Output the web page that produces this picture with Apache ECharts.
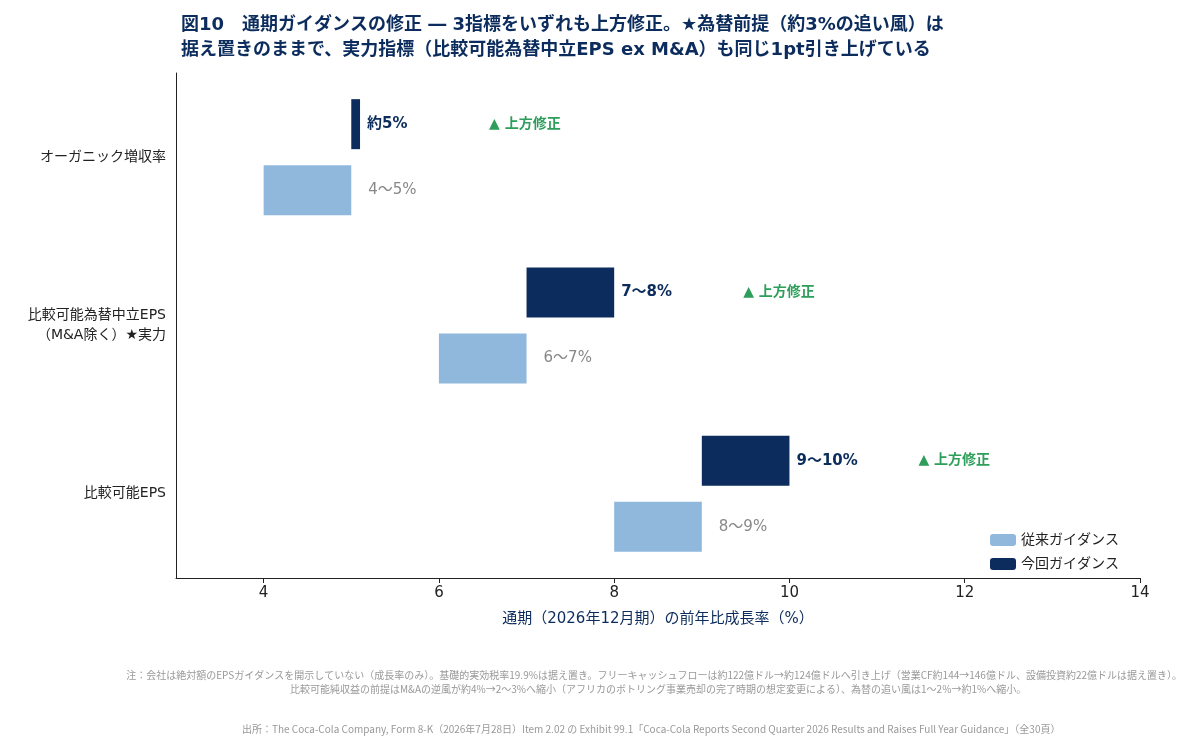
<!DOCTYPE html><html><head><meta charset="utf-8"><script src="https://cdn.jsdelivr.net/npm/echarts@6/dist/echarts.min.js"></script>
<style>body{margin:0}#c{width:1200px;height:747px}</style></head><body><div id="c"></div><script>
const categories=['オーガニック増収率','比較可能為替中立EPS\n（M&A除く）★実力','比較可能EPS'];
const oldLow=[4,6,8], oldHigh=[5,7,9];
const newLow=[5,7,9], newHigh=[5.1,8,10];
const oldLabels=['4〜5%','6〜7%','8〜9%'];
const newLabels=['約5%','7〜8%','9〜10%'];
const revLabel='▲ 上方修正';
const xTicks=[4,6,8,10,12,14];
const dark='#0B2C5C', light='#8FB8DC';
const c=echarts.init(document.getElementById('c'));
const F='"DejaVu Sans","Noto Sans CJK JP",sans-serif';
const FN='"Noto Sans CJK JP","Noto Sans",sans-serif';
c.setOption({
 textStyle:{fontFamily:F},
 title:{left:176,top:8,text:'図10　通期ガイダンスの修正 ― 3指標をいずれも上方修正。★為替前提（約3%の追い風）は\n据え置きのままで、実力指標（比較可能為替中立EPS ex M&A）も同じ1pt引き上げている',
  textStyle:{color:'#0B2C5C',fontSize:18,fontWeight:'bold',lineHeight:25,fontFamily:F}},
 grid:{left:176,right:60,top:73,bottom:169},
 legend:{data:['従来ガイダンス','今回ガイダンス'],orient:'vertical',left:985,top:528,itemWidth:26,itemHeight:12,itemGap:10,
  textStyle:{fontSize:14,color:'#222',fontFamily:F}},
 xAxis:{type:'value',min:3,max:14,name:'通期（2026年12月期）の前年比成長率（%）',nameLocation:'middle',nameGap:34,
  nameTextStyle:{fontSize:15,color:'#0B2C5C',fontFamily:F},
  axisLabel:{fontSize:15,color:'#222',customValues:xTicks,fontFamily:F},
  axisTick:{show:true,length:5,lineStyle:{color:'#222'},customValues:xTicks},
  splitLine:{show:false},axisLine:{show:true,lineStyle:{color:'#222'}}},
 yAxis:{type:'category',inverse:true,data:categories,axisLine:{lineStyle:{color:'#222'}},
  axisTick:{alignWithLabel:true,length:5,lineStyle:{color:'#222'}},
  axisLabel:{fontSize:14,color:'#222',lineHeight:20,margin:10,fontFamily:F}},
 series:[
  {type:'bar',stack:'n',data:newLow,itemStyle:{color:'transparent'},barWidth:50,barGap:'32%',silent:true},
  {type:'bar',name:'今回ガイダンス',stack:'n',data:newHigh.map((h,i)=>+(h-newLow[i]).toFixed(2)),itemStyle:{color:dark},barWidth:50,
   label:{show:true,position:'right',distance:7,formatter:p=>'{a|'+newLabels[p.dataIndex]+'}{b|'+revLabel+'}',
    rich:{a:{width:122,fontSize:15,fontWeight:'bold',color:dark,fontFamily:F},b:{fontSize:14,fontWeight:'bold',color:'#2E9E5B',fontFamily:F}}}},
  {type:'bar',stack:'o',data:oldLow,itemStyle:{color:'transparent'},barWidth:50,silent:true},
  {type:'bar',name:'従来ガイダンス',stack:'o',data:oldHigh.map((h,i)=>h-oldLow[i]),itemStyle:{color:light},barWidth:50,
   label:{show:true,position:'right',distance:17,fontSize:15,color:'#888',fontFamily:F,formatter:p=>oldLabels[p.dataIndex]}}
 ],
 graphic:[
  {type:'text',right:18,top:670,style:{text:'注：会社は絶対額のEPSガイダンスを開示していない（成長率のみ）。基礎的実効税率19.9%は据え置き。フリーキャッシュフローは約122億ドル→約124億ドルへ引き上げ（営業CF約144→146億ドル、設備投資約22億ドルは据え置き）。',fontSize:10,fill:'#999',fontFamily:FN}},
  {type:'text',left:290,top:684,style:{text:'比較可能純収益の前提はM&Aの逆風が約4%→2〜3%へ縮小（アフリカのボトリング事業売却の完了時期の想定変更による）、為替の追い風は1〜2%→約1%へ縮小。',fontSize:10,fill:'#999',fontFamily:FN}},
  {type:'text',left:242,top:724,style:{text:'出所：The Coca-Cola Company, Form 8-K（2026年7月28日）Item 2.02 の Exhibit 99.1「Coca-Cola Reports Second Quarter 2026 Results and Raises Full Year Guidance」（全30頁）',fontSize:10,fill:'#999',fontFamily:FN}}
 ]
});
</script></body></html>
